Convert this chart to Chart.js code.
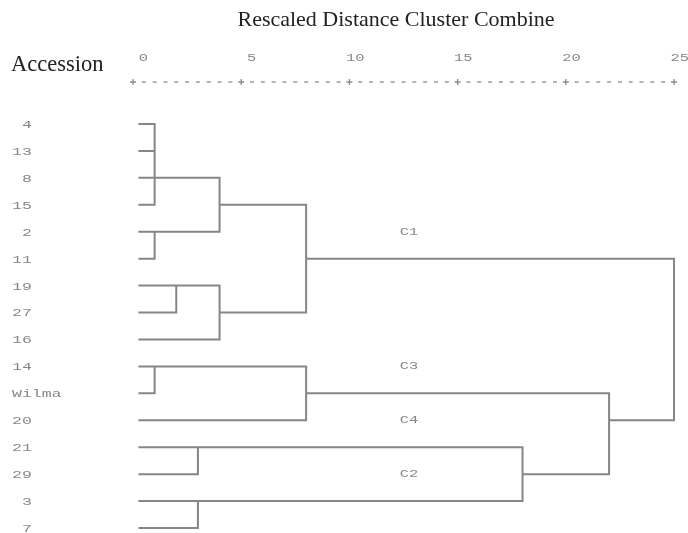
<!DOCTYPE html>
<html>
<head>
<meta charset="utf-8">
<script src="https://cdn.jsdelivr.net/npm/chart.js@4/dist/chart.umd.min.js"></script>
<style>
  html, body { margin: 0; padding: 0; background: #ffffff; }
  canvas { display: block; }
</style>
</head>
<body>
<canvas id="c" width="688" height="533"></canvas>
<script>
// ---- data ----
const leaves = ['4', '13', '8', '15', '2', '11', '19', '27', '16', '14', 'Wilma', '20', '21', '29', '3', '7'];
// merge steps: node ids 0..15 are leaves, each merge creates node 16, 17, ...
const mergeA = [0, 16, 17, 4, 18, 6, 21, 20, 9, 24, 12, 14, 26, 25, 23];
const mergeB = [1, 2, 3, 5, 19, 7, 8, 22, 10, 11, 13, 15, 27, 28, 29];
const mergeHeight = [1, 1, 1, 1, 4, 2, 4, 8, 1, 8, 3, 3, 18, 22, 25];
const leafStart = 0.25;
const tickValues = [0, 5, 10, 15, 20, 25];
const clusterNames = ['C1', 'C3', 'C4', 'C2'];
const clusterRows = [4, 9, 11, 13];
const clusterDist = [12.75, 12.75, 12.75, 12.75];
const titleText = 'Rescaled Distance Cluster Combine';
const axisTitle = 'Accession';

// ---- build dendrogram segments from the merge table ----
const nodeRow = leaves.map((_, i) => i);
const nodeH = leaves.map(() => leafStart);
const segPoints = [];
function push(x, y) {
  const last = segPoints[segPoints.length - 1];
  if (last && last.x === x && last.y === y) return;
  segPoints.push({x, y});
}
for (let m = 0; m < mergeA.length; m++) {
  const a = mergeA[m], b = mergeB[m], h = mergeHeight[m];
  push(nodeH[a], nodeRow[a]);
  push(h, nodeRow[a]);
  push(h, nodeRow[b]);
  push(nodeH[b], nodeRow[b]);
  segPoints.push({x: null, y: null});
  nodeRow.push(Math.floor((nodeRow[a] + nodeRow[b]) / 2));
  nodeH.push(h);
}

const MONO = '11px "Liberation Mono", "DejaVu Sans Mono", monospace';
const TEXT_GRAY = '#878787';

function stretchedText(ctx, text, x, y, align, sx) {
  ctx.save();
  ctx.font = MONO;
  const w = ctx.measureText(text).width * sx;
  let left = x;
  if (align === 'right') left = x - w;
  else if (align === 'center') left = x - w / 2;
  ctx.translate(left, y);
  ctx.scale(sx, 1);
  ctx.textAlign = 'left';
  ctx.textBaseline = 'middle';
  ctx.fillText(text, 0, 0);
  ctx.restore();
}

const decorPlugin = {
  id: 'decor',
  afterDraw(chart) {
    const ctx = chart.ctx;
    const xs = chart.scales.x, ys = chart.scales.y;
    ctx.save();
    // title
    ctx.fillStyle = '#222222';
    ctx.font = '22px "Liberation Serif", "Times New Roman", serif';
    ctx.textAlign = 'center';
    ctx.textBaseline = 'alphabetic';
    ctx.fillText(titleText, 396, 26);
    // axis title
    ctx.font = '22.5px "Liberation Serif", "Times New Roman", serif';
    ctx.textAlign = 'left';
    ctx.fillText(axisTitle, 11, 71);

    // top axis: dashes every 0.5, plus signs at ticks
    const axisY = 82;
    ctx.strokeStyle = '#8a8a8a';
    ctx.lineWidth = 1.3;
    for (let k = 0; k <= 50; k++) {
      const v = k / 2;
      const px = xs.getPixelForValue(v);
      ctx.beginPath();
      if (tickValues.includes(v)) {
        ctx.moveTo(px - 3, axisY); ctx.lineTo(px + 3, axisY);
        ctx.moveTo(px, axisY - 3); ctx.lineTo(px, axisY + 3);
      } else {
        ctx.moveTo(px - 2, axisY); ctx.lineTo(px + 2, axisY);
      }
      ctx.stroke();
    }
    // tick labels
    ctx.fillStyle = TEXT_GRAY;
    tickValues.forEach(v => {
      stretchedText(ctx, String(v), xs.getPixelForValue(v) + 15, 58, 'right', 1.4);
    });
    // leaf labels
    leaves.forEach((name, i) => {
      const label = /^\d$/.test(name) ? ' ' + name : name;
      stretchedText(ctx, label, 12, ys.getPixelForValue(i) + 1, 'left', 1.5);
    });
    // cluster labels
    clusterNames.forEach((name, i) => {
      stretchedText(ctx, name, xs.getPixelForValue(clusterDist[i]), ys.getPixelForValue(clusterRows[i]), 'center', 1.4);
    });
    ctx.restore();
  }
};

new Chart(document.getElementById('c'), {
  type: 'line',
  data: {
    datasets: [{
      data: segPoints,
      borderColor: '#868686',
      borderWidth: 2,
      pointRadius: 0,
      pointHoverRadius: 0,
      tension: 0,
      spanGaps: false,
      fill: false,
      clip: false,
      borderJoinStyle: 'miter'
    }]
  },
  options: {
    responsive: false,
    animation: false,
    events: [],
    parsing: true,
    layout: { padding: { left: 133, right: 14, top: 124, bottom: 5 } },
    plugins: { legend: { display: false }, tooltip: { enabled: false }, title: { display: false } },
    scales: {
      x: { type: 'linear', min: 0, max: 25, display: false },
      y: { type: 'linear', min: 0, max: 15, reverse: true, display: false }
    }
  },
  plugins: [decorPlugin]
});
</script>
</body>
</html>
